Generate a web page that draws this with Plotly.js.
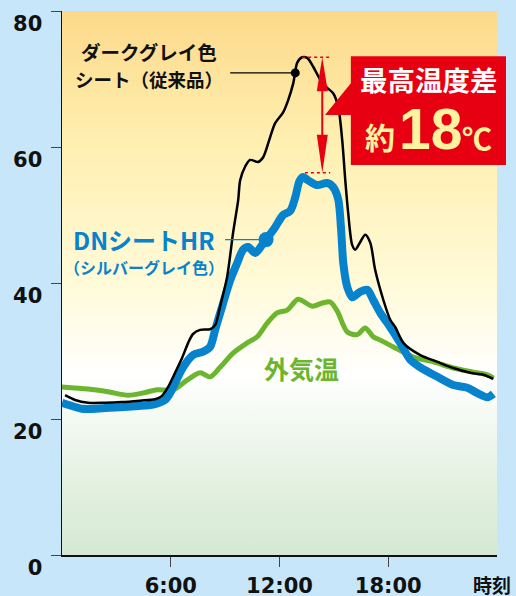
<!DOCTYPE html>
<html>
<head>
<meta charset="utf-8">
<script src="https://cdn.plot.ly/plotly-3.0.1.min.js"></script>
<style>
  html, body { margin: 0; padding: 0; background: #c8e6fa; }
  #chart { width: 516px; height: 596px; }
</style>
</head>
<body>
<div id="chart"></div>
<script>
// ---- data (hours of day, temperature °C) ----
const darkHours = [0.17,0.72,1.44,2.4,3.31,4.3,5.14,5.52,5.85,6.24,6.63,6.96,7.23,7.62,8.17,8.45,8.72,9.11,9.44,9.72,9.83,10.1,10.38,10.82,11.1,11.49,11.76,12.2,12.48,12.76,12.98,13.25,13.53,13.86,14.25,14.63,14.96,15.24,15.46,15.63,15.79,16.01,16.18,16.45,16.73,17.01,17.28,17.73,18.11,18.39,18.83,19.77,20.71,21.59,22.53,23.25,23.8];
const darkTemp  = [23.5,22.8,22.4,22.4,22.5,22.7,22.9,23.4,24.7,26.8,29.0,31.2,32.5,33.1,33.2,33.8,36.5,40.9,47.4,52.2,55.1,57.1,58.1,57.8,58.5,61.5,63.5,65.1,66.9,69.4,72.4,73.2,73.1,71.8,69.9,68.7,67.9,65.9,61.0,55.1,50.3,45.6,44.9,46.0,47.1,45.9,41.9,37.5,34.6,33.5,31.2,29.4,28.4,27.5,26.8,26.5,25.9];

const dnHours = [0,0.33,1.1,2.37,4.2,5.14,5.69,5.96,6.24,6.68,7.23,7.79,8.17,8.45,8.83,9.28,9.66,9.99,10.27,10.66,11.04,11.32,11.76,12.2,12.59,12.87,13.1,13.3,13.58,14.08,14.63,14.96,15.24,15.4,15.52,15.74,16.01,16.45,16.84,17.17,17.56,18.11,18.66,19.22,19.77,20.71,21.59,22.36,22.92,23.47,23.8];
const dnTemp  = [22.4,22.1,21.5,21.6,21.9,22.2,22.8,23.8,25.3,27.6,29.4,29.9,30.6,33.1,36.5,40.4,42.9,44.9,45.3,44.4,45.6,46.6,48.2,50.0,50.6,52.6,55.0,55.6,55.1,54.4,54.7,54.1,52.3,47.8,42.9,39.4,37.9,38.7,39.0,37.5,35.6,33.5,31.2,28.7,27.6,26.2,25.0,24.6,23.8,23.2,23.7];

const airHours = [0,1.44,2.54,3.64,4.42,5.25,6.13,6.9,7.62,8.17,8.72,9.44,10.22,10.77,11.32,11.87,12.42,13.03,13.8,14.41,14.8,15.18,15.74,16.29,16.73,17.17,17.56,18.28,19.38,20.49,21.59,22.69,23.47,23.8];
const airTemp  = [24.7,24.4,24.0,23.5,23.8,24.3,24.3,25.7,26.8,26.2,27.6,29.7,31.2,32.1,34.1,35.6,36.0,37.6,36.6,37.1,37.2,35.9,32.8,32.4,33.4,32.1,31.6,30.6,29.1,28.4,27.5,26.9,26.5,26.0];

const xTickVals = [6, 12, 18];
const xTickText = ['6:00', '12:00', '18:00'];
const yTickVals = [0, 20, 40, 60, 80];
const yTickText = ['0', '20', '40', '60', '80'];

const darkLabel = ['ダークグレイ色', 'シート（従来品）'];
const dnLabel = ['DNシートHR', '（シルバーグレイ色）'];
const airLabel = '外気温';
const diffTitle = '最高温度差';
const diffPrefix = '約';
const diffValue = '18';
const diffUnit = '℃';
const xAxisLabel = '時刻';

const darkCalloutHour = 12.87;
const dnCalloutHour = 11.26;

// ---- helpers ----
function interp(xs, ys, x) {
  for (let i = 0; i < xs.length - 1; i++) {
    if (x >= xs[i] && x <= xs[i + 1]) {
      const t = (x - xs[i]) / (xs[i + 1] - xs[i]);
      return ys[i] + t * (ys[i + 1] - ys[i]);
    }
  }
  return ys[ys.length - 1];
}
const darkMax = Math.max(...darkTemp);
const dnMax = Math.max(...dnTemp);
const darkCalloutY = interp(darkHours, darkTemp, darkCalloutHour);
const dnCalloutY = interp(dnHours, dnTemp, dnCalloutHour);

const RED = '#e60012';
const BLUE = '#0683cc';
const GREEN = '#6cb52f';
const YELLOW = '#fff3a0';
const JP = 'Noto Sans CJK JP';

const arrowX = 14.36;
const arrowTop = darkMax;
const arrowBottom = dnMax + 0.6;

const traces = [
  { // gradient plot background
    x: [0, 24, 24, 0, 0], y: [0, 0, 80, 80, 0],
    mode: 'lines', fill: 'toself', line: { width: 0 },
    fillgradient: { type: 'vertical', start: 0, stop: 80,
      colorscale: [[0, '#d5e9d2'], [0.15, '#e6f2e3'], [0.33, '#ffffff'], [0.5, '#fffad8'], [0.75, '#fff0b2'], [1, '#fcd98a']] },
    hoverinfo: 'skip', showlegend: false
  },
  { x: airHours, y: airTemp, mode: 'lines', line: { color: GREEN, width: 5, shape: 'spline', smoothing: 0.8 }, showlegend: false },
  { x: dnHours, y: dnTemp, mode: 'lines', line: { color: BLUE, width: 8, shape: 'spline', smoothing: 0.8 }, showlegend: false },
  { x: darkHours, y: darkTemp, mode: 'lines', line: { color: '#000000', width: 2.5, shape: 'spline', smoothing: 0.8 }, showlegend: false },
  { // callout leader lines + dots
    x: [9.28, darkCalloutHour], y: [darkCalloutY, darkCalloutY], mode: 'lines', line: { color: '#000', width: 1.2 }, showlegend: false },
  { x: [darkCalloutHour], y: [darkCalloutY], mode: 'markers', marker: { color: '#000', size: 9 }, showlegend: false },
  { x: [9.0, dnCalloutHour], y: [dnCalloutY, dnCalloutY], mode: 'lines', line: { color: BLUE, width: 1.2 }, showlegend: false },
  { x: [dnCalloutHour], y: [dnCalloutY], mode: 'markers', marker: { color: BLUE, size: 15 }, showlegend: false },
  { // dotted reference lines at the two peaks
    x: [13.25, 14.8], y: [darkMax, darkMax], mode: 'lines', line: { color: RED, width: 1.5, dash: 'dot' }, showlegend: false },
  { x: [13.4, 14.8], y: [arrowBottom, arrowBottom], mode: 'lines', line: { color: RED, width: 1.5, dash: 'dot' }, showlegend: false },
  { x: [arrowX, arrowX], y: [arrowTop - 2, arrowBottom + 2], mode: 'lines', line: { color: RED, width: 2 }, showlegend: false }
];

const shapes = [
  { type: 'rect', xref: 'paper', yref: 'paper', x0: 0.664, x1: 1.0207, y0: 0.717, y1: 0.917, fillcolor: RED, line: { width: 0 } },
  { type: 'path', xref: 'paper', yref: 'paper', path: 'M 0.665,0.868 L 0.6046,0.809 L 0.665,0.809 Z', fillcolor: RED, line: { width: 0 } },
  { type: 'path', xref: 'x', yref: 'y', xsizemode: 'pixel', ysizemode: 'pixel', xanchor: arrowX, yanchor: arrowTop,
    path: 'M 0,0 L -5.5,-34 L 5.5,-34 Z', fillcolor: RED, line: { width: 0 } },
  { type: 'path', xref: 'x', yref: 'y', xsizemode: 'pixel', ysizemode: 'pixel', xanchor: arrowX, yanchor: arrowBottom,
    path: 'M 0,0 L -5.5,38 L 5.5,38 Z', fillcolor: RED, line: { width: 0 } }
];

function ann(text, x, y, size, color, extra) {
  return Object.assign({ text: text, x: x, y: y, xref: 'x', yref: 'y', showarrow: false,
    xanchor: 'center', yanchor: 'middle',
    font: { family: JP, size: size, color: color, weight: 'bold' } }, extra || {});
}

const annotations = [
  ann(darkLabel[0], 4.8, 74.0, 19.5, '#111'),
  ann(darkLabel[1], 4.8, 70.0, 18.5, '#111'),
  ann(dnLabel[0], 4.53, 46.4, 24, BLUE),
  ann(dnLabel[1], 4.53, 42.3, 16, BLUE),
  ann(airLabel, 13.2, 27.5, 25, GREEN),
  ann(diffTitle, 0.8437, 0.875, 27.5, '#ffffff', { xref: 'paper', yref: 'paper' }),
  ann(diffPrefix, 0.731, 0.770, 30, YELLOW, { xref: 'paper', yref: 'paper' }),
  ann(diffValue, 0.846, 0.783, 57, YELLOW, { xref: 'paper', yref: 'paper',
      font: { family: 'Liberation Sans', size: 57, color: YELLOW, weight: 'bold' } }),
  ann(diffUnit, 0.954, 0.768, 30, YELLOW, { xref: 'paper', yref: 'paper' }),
  ann(xAxisLabel, 0.9885, -0.055, 19, '#111', { xref: 'paper', yref: 'paper' })
];

const layout = {
  width: 516, height: 596,
  margin: { l: 62, r: 19, t: 11, b: 41 },
  paper_bgcolor: '#c8e6fa',
  plot_bgcolor: 'rgba(0,0,0,0)',
  showlegend: false,
  xaxis: {
    range: [0, 24], tickvals: xTickVals, ticktext: xTickText,
    showgrid: false, zeroline: false, showline: true, linecolor: '#111', linewidth: 1.5,
    ticks: 'outside', ticklen: 10, tickcolor: '#444', tickwidth: 1,
    ticklabelstandoff: 1,
    tickfont: { family: 'DejaVu Sans', size: 21, color: '#111', weight: 'bold' }
  },
  yaxis: {
    range: [0, 80], tickvals: yTickVals, ticktext: yTickText,
    showgrid: false, zeroline: false, showline: true, linecolor: '#111', linewidth: 1.5,
    ticks: 'outside', ticklen: 10, tickcolor: '#444', tickwidth: 1,
    ticklabelshift: 13, ticklabelstandoff: 4,
    tickfont: { family: 'DejaVu Sans', size: 21, color: '#111', weight: 'bold' }
  },
  shapes: shapes,
  annotations: annotations
};

Plotly.newPlot('chart', traces, layout, { displayModeBar: false, staticPlot: true });
</script>
</body>
</html>
